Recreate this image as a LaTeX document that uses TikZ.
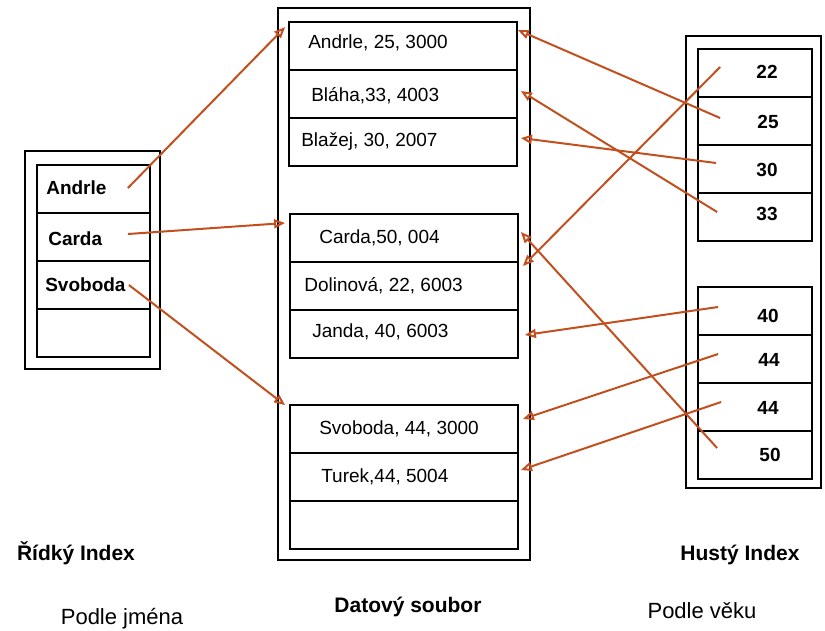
\documentclass[tikz,border=0pt]{standalone}
\usepackage{fontspec}
\setmainfont{Liberation Sans}
\usetikzlibrary{arrows.meta}
\definecolor{linkred}{RGB}{193,80,30}
\tikzstyle{outerbox} = [rectangle, draw=black, line width=1.8pt, inner sep=0pt]
\tikzstyle{slot} = [rectangle, draw=black, line width=1.8pt, minimum height=48pt, inner sep=0pt]
\tikzstyle{rectext} = [anchor=west, inner sep=0pt, text height=13.5pt, text depth=0pt, font=\fontsize{19}{21}\selectfont]
\tikzstyle{keytext} = [rectext, font=\fontsize{19}{21}\selectfont\bfseries]
\tikzstyle{numtext} = [inner sep=0pt, text height=13.5pt, text depth=0pt, font=\fontsize{19}{21}\selectfont\bfseries]
\tikzstyle{titletext} = [inner sep=0pt, text height=15pt, text depth=0pt, font=\fontsize{21}{24}\selectfont\bfseries]
\tikzstyle{subtext} = [inner sep=0pt, text height=15.5pt, text depth=0pt, font=\fontsize{22}{25}\selectfont]
\tikzstyle{arrow} = [line width=2pt, draw=linkred, -{Triangle[open,length=11pt,width=9pt]}]

\begin{document}
\begin{tikzpicture}[x=1pt, y=-1pt, node distance=48pt]
\useasboundingbox (0,0) rectangle (825,630);

%% SPARSE INDEX

\node (sparse) [outerbox, minimum width=135pt, minimum height=218pt] at (92.5,260) {};
\node (sp1) [slot, minimum width=113pt] at (93.5,189) {};
\node (sp2) [slot, minimum width=113pt, below of=sp1] {};
\node (sp3) [slot, minimum width=113pt, below of=sp2] {};
\node (sp4) [slot, minimum width=113pt, below of=sp3] {};
\node (sp1t) [keytext] at ([xshift=10pt,yshift=1pt]sp1.west) {Andrle};
\node (sp2t) [keytext] at ([xshift=12pt,yshift=-2pt]sp2.west) {Carda};
\node (sp3t) [keytext] at ([xshift=9pt]sp3.west) {Svoboda};

%% DATA FILE

\node (data) [outerbox, minimum width=252pt, minimum height=552pt] at (404,284) {};
\node (df1) [slot, minimum width=228pt] at (403,46) {};
\node (df2) [slot, minimum width=228pt, below of=df1] {};
\node (df3) [slot, minimum width=228pt, below of=df2] {};
\node (df4) [slot, minimum width=228pt] at (404,238) {};
\node (df5) [slot, minimum width=228pt, below of=df4] {};
\node (df6) [slot, minimum width=228pt, below of=df5] {};
\node (df7) [slot, minimum width=228pt] at (404,429) {};
\node (df8) [slot, minimum width=228pt, below of=df7] {};
\node (df9) [slot, minimum width=228pt, below of=df8] {};
\node (df1t) [rectext] at ([xshift=20pt,yshift=4pt]df1.west) {Andrle, 25, 3000};
\node (df2t) [rectext] at ([xshift=23pt,yshift=-1pt]df2.west) {Bláha,33, 4003};
\node (df3t) [rectext] at ([xshift=13pt,yshift=2pt]df3.west) {Blažej, 30, 2007};
\node (df4t) [rectext] at ([xshift=30pt,yshift=1pt]df4.west) {Carda,50, 004};
\node (df5t) [rectext] at ([xshift=15pt,yshift=1.5pt]df5.west) {Dolinová, 22, 6003};
\node (df6t) [rectext] at ([xshift=23pt,yshift=3pt]df6.west) {Janda, 40, 6003};
\node (df7t) [rectext] at ([xshift=30pt,yshift=1.5pt]df7.west) {Svoboda, 44, 3000};
\node (df8t) [rectext] at ([xshift=32pt,yshift=1pt]df8.west) {Turek,44, 5004};

%% DENSE INDEX

\node (dense) [outerbox, minimum width=135pt, minimum height=452pt] at (753.5,262) {};
\node (dn1) [slot, minimum width=114pt] at (755,73) {};
\node (dn2) [slot, minimum width=114pt, below of=dn1] {};
\node (dn3) [slot, minimum width=114pt, below of=dn2] {};
\node (dn4) [slot, minimum width=114pt, below of=dn3] {};
\node (dn5) [slot, minimum width=114pt] at (755,311) {};
\node (dn6) [slot, minimum width=114pt, below of=dn5] {};
\node (dn7) [slot, minimum width=114pt, below of=dn6] {};
\node (dn8) [slot, minimum width=114pt, below of=dn7] {};
\node (dn1t) [numtext] at ([xshift=12pt,yshift=1pt]dn1.center) {22};
\node (dn2t) [numtext] at ([xshift=13pt,yshift=-1pt]dn2.center) {25};
\node (dn3t) [numtext] at ([xshift=12pt,yshift=-1pt]dn3.center) {30};
\node (dn4t) [numtext] at ([xshift=12pt,yshift=3pt]dn4.center) {33};
\node (dn5t) [numtext] at ([xshift=13pt,yshift=-5pt]dn5.center) {40};
\node (dn6t) [numtext] at ([xshift=14pt,yshift=-1pt]dn6.center) {44};
\node (dn7t) [numtext] at ([xshift=13pt,yshift=-1pt]dn7.center) {44};
\node (dn8t) [numtext] at ([xshift=15pt]dn8.center) {50};

%% CAPTIONS

\node (sparsename) [titletext] at (76,553) {Řídký Index};
\node (densename) [titletext] at (740,553) {Hustý Index};
\node (dataname) [titletext] at (408,605) {Datový soubor};
\node (sparsekey) [subtext] at (122,617) {Podle jména};
\node (densekey) [subtext] at (702,611) {Podle věku};

%% ARROWS

\draw [arrow] ([xshift=-23pt,yshift=1pt]sp1.east) -- ([xshift=-3pt,yshift=-6pt]df1.north west);
\draw [arrow] ([xshift=-23pt,yshift=3pt]sp2.east) -- ([xshift=-4pt,yshift=15pt]df4.west);
\draw [arrow] ([xshift=-22pt]sp3.east) -- ([xshift=-4pt,yshift=-1pt]df7.north west);

\draw [arrow] ([xshift=23pt,yshift=3pt]dn2.west) -- ([yshift=16pt]df1.east);
\draw [arrow] ([xshift=20pt,yshift=5pt]dn4.west) -- ([xshift=3pt,yshift=3pt]df2.east);
\draw [arrow] ([xshift=19pt,yshift=6pt]dn3.west) -- ([xshift=3pt,yshift=4pt]df3.east);
\draw [arrow] ([xshift=23pt,yshift=6pt]dn1.west) -- ([xshift=4pt,yshift=20pt]df5.east);
\draw [arrow] ([xshift=20pt,yshift=7pt]dn8.west) -- ([xshift=2pt,yshift=6pt]df4.east);
\draw [arrow] ([xshift=21pt,yshift=4pt]dn5.west) -- ([xshift=6pt,yshift=-1pt]df6.east);
\draw [arrow] ([xshift=21pt,yshift=5pt]dn6.west) -- ([xshift=4pt,yshift=10pt]df7.east);
\draw [arrow] ([xshift=24pt,yshift=5pt]dn7.west) -- ([xshift=2pt,yshift=7pt]df8.east);

\end{tikzpicture}
\end{document}
